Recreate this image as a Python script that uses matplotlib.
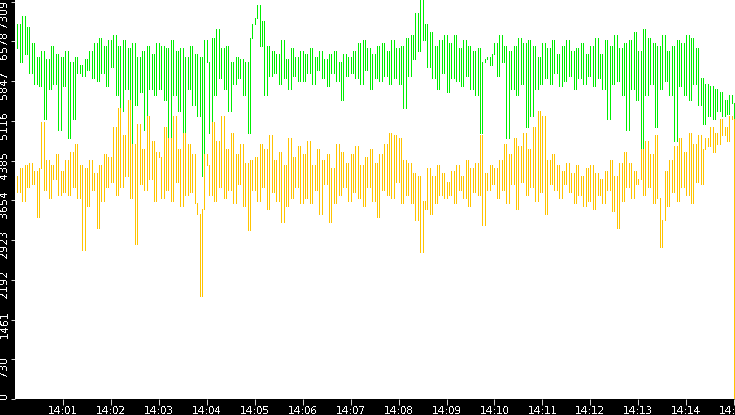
import numpy as np
import matplotlib
matplotlib.use('Agg')
import matplotlib.pyplot as plt
from matplotlib.transforms import ScaledTranslation

# one sample every 3 seconds, 14:00:00 -> 14:15:00
step = 3

green = [
    6450, 6900, 6200, 7050, 6350, 6850, 6000, 6550, 5800, 6300, 5750, 6400, 5150, 6250, 5700, 6500, 5800, 6350, 4950, 6300,
    5750, 6400, 4800, 6200, 5150, 6300, 6000, 6150, 5950, 6250, 6050, 6400, 5900, 6550, 5850, 6650, 6000, 6500, 5750, 6600,
    6100, 6700, 5600, 6500, 5300, 6600, 5700, 6450, 4650, 6550, 5400, 6300, 5650, 6400, 4950, 6500, 5700, 6350, 5600, 6550,
    5700, 6500, 5500, 6450, 4750, 6600, 5600, 6400, 5300, 6450, 4550, 6300, 5700, 6500, 5400, 6350, 5200, 6300, 4100, 6600,
    6200, 4900, 6650, 5600, 6800, 5900, 6450, 5700, 6500, 5300, 6200, 5800, 6300, 5900, 6250, 5600, 6200, 4900, 6650, 6900,
    7000, 7250, 6500, 6950, 5600, 6500, 5950, 6400, 6000, 6350, 5800, 6600, 5900, 6250, 5700, 6450, 5950, 6300, 5850, 6400,
    5850, 6350, 6000, 6450, 5800, 6300, 6050, 6400, 5900, 6250, 5750, 6350, 6000, 6400, 5850, 6200, 5500, 6350, 5950, 6300,
    6000, 6400, 5900, 6550, 5800, 6600, 6050, 6450, 5700, 6350, 5900, 6500, 5850, 6550, 5950, 6400, 5800, 6600, 5900, 6450,
    5800, 6500, 5350, 6650, 5950, 6700, 6250, 7100, 6400, 7340, 6600, 6900, 6100, 6750, 5900, 6500, 5700, 6600, 6000, 6700,
    5650, 6550, 5900, 6700, 5850, 6450, 5750, 6600, 5950, 6500, 5700, 6400, 5600, 6450, 4900, 6200, 6250, 6300, 6150, 6350,
    6550, 5950, 6700, 6200, 6500, 4800, 6400, 5700, 6500, 5600, 6650, 5800, 6550, 5000, 6600, 5200, 6500, 5700, 6300, 5800,
    6550, 5900, 6450, 5800, 6600, 6000, 6350, 5750, 6500, 5850, 6600, 5950, 6400, 5700, 6450, 5900, 6550, 5800, 6350, 5950,
    6500, 5750, 6650, 5900, 6350, 5700, 6600, 5150, 6500, 5800, 6700, 5850, 6450, 5600, 6550, 4950, 6600, 5700, 6750, 5500,
    6400, 4470, 6800, 5600, 6650, 5800, 6550, 5000, 6500, 5700, 6700, 5850, 6400, 5600, 6500, 4750, 6600, 5750, 6550, 5600,
    6700, 5500, 6650, 5800, 6450, 5400, 5900, 5050, 5800, 5200, 5750, 5150, 5700, 5300, 5650, 5200, 5500, 5250, 5600, 5450,
    0,
]

gold = [
    4100, 3800, 4250, 3650, 4300, 3900, 4350, 3950, 4200, 3350, 4250, 5100, 3850, 4400, 3700, 4300, 4050, 4500, 3750, 4200,
    3800, 4400, 3750, 4550, 3900, 4700, 3700, 4300, 2750, 4250, 3550, 4400, 3850, 4150, 3150, 4300, 3650, 4500, 3900, 4450,
    4000, 5000, 3750, 5350, 3900, 4850, 4100, 5500, 3700, 4700, 2850, 5050, 3950, 4600, 3850, 5200, 4050, 4750, 3650, 4550,
    4450, 3700, 5000, 3850, 4800, 3650, 5200, 4000, 4600, 3550, 4900, 3750, 4700, 3800, 4500, 3600, 3400, 1900, 3500, 4500,
    4300, 3750, 5100, 3650, 4750, 3900, 5200, 3700, 4600, 3850, 4900, 3600, 4500, 3950, 4700, 3550, 4350, 3100, 4400, 3850,
    4450, 3650, 4700, 3900, 4600, 3500, 4850, 3800, 4400, 3650, 4550, 3250, 4300, 3550, 4800, 3700, 4450, 3900, 4650, 3600,
    4500, 3700, 4750, 3600, 4300, 3850, 4600, 3400, 4400, 3950, 4500, 3250, 4250, 3600, 4700, 3750, 4550, 3900, 4350, 3650,
    4500, 3800, 4650, 3700, 4300, 3550, 4450, 3900, 4600, 3650, 4350, 3350, 4500, 3850, 4700, 3750, 4900, 3700, 4850, 4000,
    4800, 3600, 4400, 3750, 4350, 3600, 4150, 3300, 4100, 2700, 3650, 3500, 4250, 3400, 4100, 3600, 4300, 3750, 4150, 3700,
    4000, 3750, 4200, 3600, 4300, 3850, 4100, 3700, 4400, 3550, 4250, 3800, 4350, 3750, 4850, 3200, 4150, 3850, 4300, 3950,
    4250, 3700, 4400, 3850, 4700, 3600, 4500, 3950, 4800, 3500, 4650, 4000, 4900, 3750, 4600, 3900, 5000, 3650, 5300, 3800,
    5200, 3400, 4400, 3950, 4500, 3850, 4300, 3700, 4200, 3950, 4350, 3800, 4150, 3600, 4300, 3750, 4100, 3550, 4250, 3650,
    4300, 3500, 4150, 3750, 4050, 3600, 4200, 3850, 4400, 3450, 4100, 3150, 4350, 3650, 4550, 3900, 4350, 3700, 4200, 3950,
    4050, 4600, 3750, 4750, 3900, 4500, 3600, 4850, 3700, 2800, 3300, 4200, 3550, 4400, 3800, 4650, 3650, 4800, 3900, 4550,
    3750, 4900, 3600, 4700, 4000, 4850, 3950, 4600, 4800, 4650, 5000, 4550, 4900, 4700, 5150, 4850, 5000, 4750, 5200, 5150,
    0,
]

y_ticks = [0, 730.9, 1461.8, 2192.7, 2923.6, 3654.5, 4385.4, 5116.3, 5847.2, 6578.1, 7309]
y_labels = ['0', '730', '1461', '2192', '2923', '3654', '4385', '5116', '5847', '6578', '7309']
x_ticks = [60, 120, 180, 240, 300, 360, 420, 480, 540, 600, 660, 720, 780, 840, 900]
x_labels = ['14:01', '14:02', '14:03', '14:04', '14:05', '14:06', '14:07', '14:08',
            '14:09', '14:10', '14:11', '14:12', '14:13', '14:14', '14:15']

plt.rcParams['text.antialiased'] = False

fig = plt.figure(figsize=(7.35, 4.15), dpi=100, facecolor='black')
ax = fig.add_axes([15 / 735, 16 / 415, 720 / 735, 399 / 415])
ax.set_facecolor('white')

t = np.arange(len(green)) * step
g = np.array(green)
o = np.array(gold)
# each sample drawn as a vertical stroke from the previous value
ax.vlines(t[1:], g[:-1], g[1:], color='#00ee00', linewidth=0.7, antialiased=False)
ax.vlines(t[1:], o[:-1], o[1:], color='#ffc400', linewidth=0.7, antialiased=False)

ax.set_xlim(0, 901)
ax.set_ylim(0, 7340)
for s in ax.spines.values():
    s.set_visible(False)

ax.set_xticks(x_ticks)
ax.set_xticklabels(x_labels)
ax.set_yticks(y_ticks)
ax.set_yticklabels(y_labels, rotation=90, va='bottom')
ax.tick_params(axis='x', colors='white', length=4.5, width=0.6, pad=0.5, labelsize=7.5)
ax.tick_params(axis='y', colors='white', length=3, width=0.6, pad=1, labelsize=8)

# labels start below their tick; bottom one sits on the axis, top one kept inside
labs = ax.get_yticklabels()
for i, lab in enumerate(labs):
    dy = -18
    if i == 0:
        dy = 0
    elif i == len(labs) - 1:
        dy = -26
    lab.set_transform(lab.get_transform() + ScaledTranslation(0, dy / 100, fig.dpi_scale_trans))

fig.savefig('out.png', dpi=100, facecolor='black')
